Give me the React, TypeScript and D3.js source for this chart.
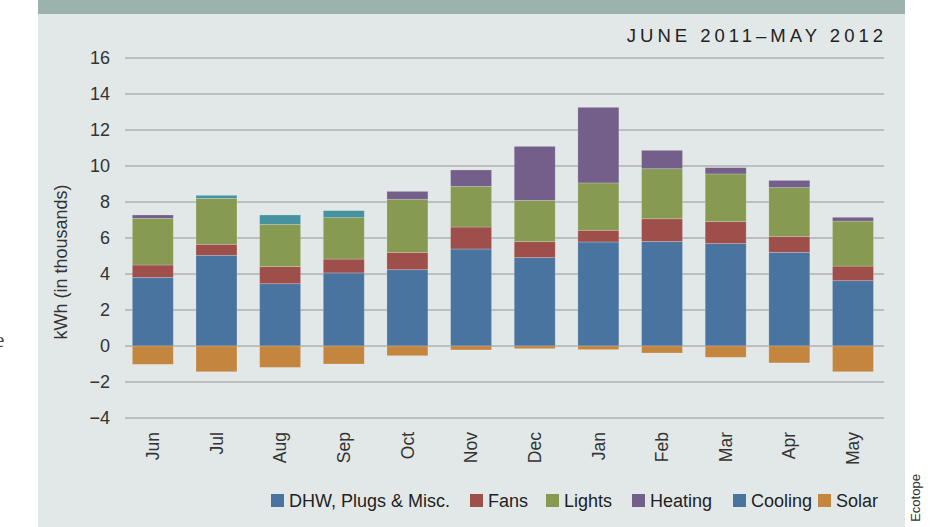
import React from "react";
import * as d3 from "d3";

const months = ["Jun", "Jul", "Aug", "Sep", "Oct", "Nov", "Dec", "Jan", "Feb", "Mar", "Apr", "May"];
const dhw = [3.81, 5.04, 3.46, 4.06, 4.24, 5.39, 4.91, 5.78, 5.81, 5.69, 5.2, 3.63];
const fans = [0.69, 0.61, 0.95, 0.77, 0.96, 1.22, 0.89, 0.65, 1.26, 1.22, 0.89, 0.81];
const lights = [2.59, 2.55, 2.35, 2.3, 2.95, 2.26, 2.29, 2.63, 2.78, 2.65, 2.71, 2.5];
const heating = [0.19, 0, 0, 0, 0.44, 0.91, 3.0, 4.2, 1.02, 0.35, 0.4, 0.21];
const cooling = [0, 0.17, 0.52, 0.39, 0, 0, 0, 0, 0, 0, 0, 0];
const solar = [-1.02, -1.43, -1.19, -1.0, -0.54, -0.22, -0.15, -0.2, -0.39, -0.63, -0.94, -1.43];
const yTicks = [-4, -2, 0, 2, 4, 6, 8, 10, 12, 14, 16];

const seriesKeys = ["dhw", "fans", "lights", "heating", "cooling", "solar"];
const seriesNames = ["DHW, Plugs & Misc.", "Fans", "Lights", "Heating", "Cooling", "Solar"];
const barColors = ["#4a74a0", "#9e4f4a", "#869a52", "#735f8a", "#46929f", "#c4863f"];
const legendColors = ["#4a74a0", "#9e4f4a", "#869a52", "#735f8a", "#4a74a0", "#c4863f"];
const legendX = [271, 470, 546, 632, 733, 818];

const FONT = "'Liberation Sans', Arial, sans-serif";

export default function App() {
  const rows = months.map((m, i) => ({
    month: m,
    dhw: dhw[i],
    fans: fans[i],
    lights: lights[i],
    heating: heating[i],
    cooling: cooling[i],
    solar: solar[i],
  }));
  const stacked = d3
    .stack<any>()
    .keys(seriesKeys)
    .offset(d3.stackOffsetDiverging)(rows);

  const x = d3
    .scaleBand<string>()
    .domain(months)
    .range([121, 884.8])
    .paddingInner(0.356)
    .paddingOuter(0.178);
  const y = d3.scaleLinear().domain([-4, 16]).range([418, 58]);

  return (
    <svg width={933} height={527} style={{ position: "absolute", left: 0, top: 0 }}>
      <rect x={0} y={0} width={933} height={527} fill="#ffffff" />
      <rect x={38} y={0} width={867} height={527} fill="#e2e8e8" />
      <rect x={38} y={0} width={867} height={14} fill="#9cb3ad" />
      <text x={-5} y={347} fontFamily="'Liberation Serif', serif" fontSize={21} fill="#444">
        e
      </text>
      <text
        transform="translate(920,498) rotate(-90)"
        textAnchor="middle"
        fontFamily={FONT}
        fontSize={13}
        fill="#333"
      >
        Ecotope
      </text>
      <text
        x={887}
        y={42}
        textAnchor="end"
        fontFamily={FONT}
        fontSize={18.5}
        letterSpacing={4}
        fill="#222"
      >
        JUNE 2011–MAY 2012
      </text>
      {yTicks.map((t) => (
        <g key={t}>
          <line x1={125} x2={884} y1={y(t)} y2={y(t)} stroke="#adb1b1" strokeWidth={1.5} />
          <text
            x={110}
            y={y(t)}
            dy="0.35em"
            textAnchor="end"
            fontFamily={FONT}
            fontSize={18}
            fill="#333"
          >
            {t < 0 ? "\u2212" + Math.abs(t) : t}
          </text>
        </g>
      ))}
      <text
        transform="translate(67,262) rotate(-90)"
        textAnchor="middle"
        fontFamily={FONT}
        fontSize={18}
        fill="#333"
      >
        kWh (in thousands)
      </text>
      {stacked.map((s, si) => (
        <g key={s.key} fill={barColors[si]}>
          {s.map((d, i) =>
            d[1] - d[0] === 0 ? null : (
              <rect
                key={i}
                x={x(months[i])}
                width={x.bandwidth()}
                y={y(Math.max(d[0], d[1]))}
                height={Math.abs(y(d[0]) - y(d[1]))}
                stroke="rgba(255,255,255,0.25)"
                strokeWidth={0.8}
              />
            )
          )}
        </g>
      ))}
      {months.map((m) => (
        <text
          key={m}
          transform={`translate(${(x(m) as number) + x.bandwidth() / 2},432) rotate(-90)`}
          textAnchor="end"
          dy="0.35em"
          fontFamily={FONT}
          fontSize={17.5}
          fill="#333"
        >
          {m}
        </text>
      ))}
      {seriesNames.map((n, i) => (
        <g key={n}>
          <rect x={legendX[i]} y={494} width={13} height={13} fill={legendColors[i]} />
          <text x={legendX[i] + 18} y={507} fontFamily={FONT} fontSize={18} fill="#222">
            {n}
          </text>
        </g>
      ))}
    </svg>
  );
}
